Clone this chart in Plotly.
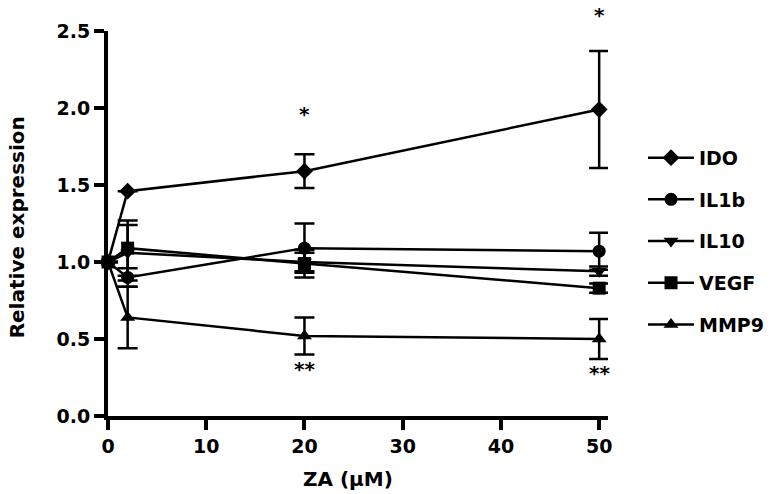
import plotly.graph_objects as go

# Data
za = [0, 2, 20, 50]
series_names = ["IDO", "IL1b", "IL10", "VEGF", "MMP9"]
ido = [1.0, 1.46, 1.59, 1.99]
ido_err = [0.0, 0.0, 0.11, 0.38]
il1b = [1.0, 0.90, 1.09, 1.07]
il1b_err = [0.0, 0.06, 0.16, 0.12]
il10 = [1.0, 1.06, 1.00, 0.94]
il10_err = [0.0, 0.18, 0.06, 0.03]
vegf = [1.0, 1.09, 0.99, 0.83]
vegf_err = [0.0, 0.18, 0.09, 0.03]
mmp9 = [1.0, 0.64, 0.52, 0.50]
mmp9_err = [0.0, 0.20, 0.12, 0.13]
symbols = ["diamond", "circle", "triangle-down", "square", "triangle-up"]

sig_x = [20, 50, 20, 50]
sig_y = [1.89, 2.53, 0.254, 0.229]
sig_text = ["*", "*", "**", "**"]

x_ticks = [0, 10, 20, 30, 40, 50]
y_ticks = [0.0, 0.5, 1.0, 1.5, 2.0, 2.5]
Y_MAX = 2.5
X_MAX = 50.9

values = [ido, il1b, il10, vegf, mmp9]
errors = [ido_err, il1b_err, il10_err, vegf_err, mmp9_err]

FONT = "DejaVu Sans, Liberation Sans, Arial, sans-serif"
W, H = 774, 494
M = dict(l=100, r=174, t=15, b=86)
plot_h = H - M["t"] - M["b"]
plot_w = W - M["l"] - M["r"]
px_per_y = plot_h / Y_MAX
# asterisk glyphs sit low in their text box; lift them so glyph centres land on sig_y
glyph_lift = {"*": 11, "**": 8}

fig = go.Figure()
for name, v, e, s in zip(series_names, values, errors, symbols):
    fig.add_trace(go.Scatter(
        x=za, y=v, name=f"<b>{name}</b>", mode="lines+markers",
        line=dict(color="black", width=2.5),
        marker=dict(symbol=s, size=13, color="black"),
        error_y=dict(type="data", array=e, visible=True, color="black",
                     thickness=2.5, width=10),
        legendgroup=name, cliponaxis=False,
    ))

for sx, sy, st in zip(sig_x, sig_y, sig_text):
    anchor = min(sy, Y_MAX)
    fig.add_annotation(x=sx, y=anchor, xref="x", yref="y", text=f"<b>{st}</b>",
                       yshift=(sy - anchor) * px_per_y + glyph_lift[st],
                       xanchor="center", yanchor="middle",
                       showarrow=False, font=dict(family=FONT, size=20, color="black"))

# axis titles
fig.add_annotation(x=(9 - M["l"]) / plot_w, y=0.49,
                   xref="paper", yref="paper", text="<b>Relative expression</b>",
                   textangle=-90, showarrow=False, xanchor="center", yanchor="middle",
                   font=dict(family=FONT, size=20, color="black"))
fig.add_annotation(x=0.48, y=-(472 - (H - M["b"])) / plot_h,
                   xref="paper", yref="paper", text="<b>ZA (μM)</b>",
                   showarrow=False, xanchor="center", yanchor="middle",
                   font=dict(family=FONT, size=20, color="black"))

fig.update_layout(
    width=W, height=H,
    paper_bgcolor="white", plot_bgcolor="white",
    margin=M,
    font=dict(family=FONT, size=19, color="black"),
    legend=dict(x=1.07, y=0.72, xanchor="left", yanchor="top",
                traceorder="grouped", tracegroupgap=14,
                font=dict(family=FONT, size=19, color="black"),
                itemwidth=46, bgcolor="rgba(0,0,0,0)"),
    showlegend=True,
)
fig.update_xaxes(
    range=[0, X_MAX], tickvals=x_ticks, ticktext=[f"<b>{t}</b>" for t in x_ticks],
    showline=True, linecolor="black", linewidth=4,
    ticks="outside", ticklen=10, tickwidth=4, tickcolor="black",
    showgrid=False, zeroline=False,
    tickfont=dict(family=FONT, size=19),
)
fig.update_yaxes(
    range=[0, Y_MAX], tickvals=y_ticks, ticktext=[f"<b>{t:.1f}</b>" for t in y_ticks],
    showline=True, linecolor="black", linewidth=4,
    ticks="outside", ticklen=10, tickwidth=4, tickcolor="black",
    showgrid=False, zeroline=False,
    tickfont=dict(family=FONT, size=19),
)

fig.write_html("out.html")
